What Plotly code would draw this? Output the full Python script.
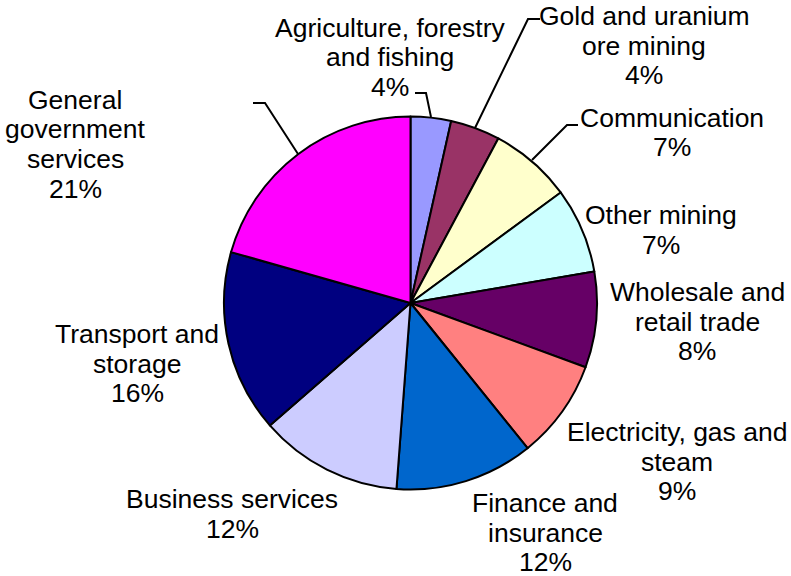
import math
import plotly.graph_objects as go

# Share of output by sector (percent)
sectors = [
    "Agriculture, forestry\nand fishing",
    "Gold and uranium\nore mining",
    "Communication",
    "Other mining",
    "Wholesale and\nretail trade",
    "Electricity, gas and\nsteam",
    "Finance and\ninsurance",
    "Business services",
    "Transport and\nstorage",
    "General\ngovernment\nservices",
]
shares = [3.5, 4.3, 7.1, 7.4, 8.3, 8.6, 12.0, 12.4, 15.8, 20.6]
colors = ["#9999FF", "#993366", "#FFFFCC", "#CCFFFF", "#660066",
          "#FF8080", "#0066CC", "#CCCCFF", "#000080", "#FF00FF"]

W, H = 791, 576
cx, cy, r = 410.5, 303, 186.5

# Label block placement: centre x and first-line y (pixels from top)
label_pos = [
    (390, 28), (644, 16), (672, 118), (661, 215), (697, 292),
    (677, 432), (545, 503), (232, 499), (137, 334), (75, 100),
]
line_gap = 29.5

# Leader lines from slice edge to label (pixel coordinates)
leaders = [
    [(431, 117), (426, 93), (415, 93)],
    [(475, 128), (528, 19), (540, 19)],
    [(532, 160), (567, 125), (578, 125)],
    [(298, 154), (265, 103), (253, 103)],
]


def px(x):
    return x / W


def py(y):
    return 1 - y / H


total = sum(shares)
fig = go.Figure(go.Pie(
    labels=[s.replace("\n", " ") for s in sectors],
    values=shares,
    sort=False,
    direction="clockwise",
    rotation=0,
    textinfo="none",
    hoverinfo="label+percent",
    marker=dict(colors=colors, line=dict(color="black", width=2)),
    domain=dict(x=[px(cx - r), px(cx + r)], y=[py(cy + r), py(cy - r)]),
    showlegend=False,
))

annotations = []
for name, val, (lx, ly) in zip(sectors, shares, label_pos):
    pct = math.floor(val / total * 100 + 0.5)
    lines = name.split("\n") + [f"{pct}%"]
    for i, line in enumerate(lines):
        annotations.append(dict(
            x=px(lx), y=py(ly + i * line_gap), xref="paper", yref="paper",
            text=line, showarrow=False, xanchor="center", yanchor="middle",
            font=dict(family="Liberation Sans, Arial, sans-serif", size=26.5,
                      color="black"),
        ))

shapes = []
for pts in leaders:
    path = "M " + " L ".join(f"{px(x)},{py(y)}" for x, y in pts)
    shapes.append(dict(type="path", path=path, xref="paper", yref="paper",
                       line=dict(color="black", width=2)))

fig.update_layout(
    width=W, height=H,
    margin=dict(l=0, r=0, t=0, b=0),
    paper_bgcolor="white", plot_bgcolor="white",
    annotations=annotations, shapes=shapes,
)

fig.write_html("out.html")
